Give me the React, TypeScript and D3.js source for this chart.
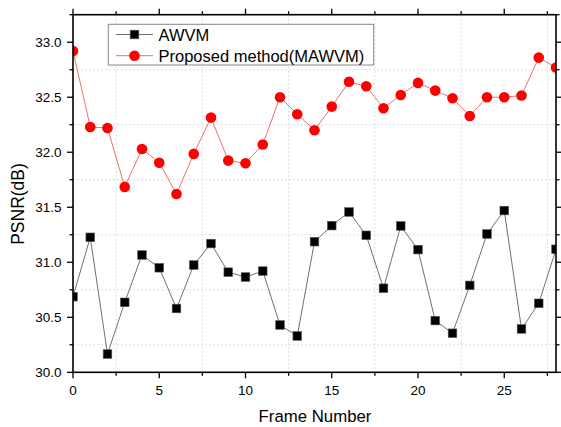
import React from "react";
import * as d3 from "d3";

const frames = d3.range(0, 29);
const awvm = [30.687, 31.227, 30.166, 30.636, 31.066, 30.95, 30.58, 30.975, 31.17, 30.91, 30.866, 30.92, 30.43, 30.33, 31.187, 31.333, 31.457, 31.245, 30.764, 31.33, 31.115, 30.47, 30.355, 30.79, 31.257, 31.47, 30.394, 30.627, 31.118];
const mawvm = [32.92, 32.23, 32.22, 31.685, 32.03, 31.905, 31.62, 31.985, 32.315, 31.924, 31.9, 32.07, 32.5, 32.345, 32.2, 32.415, 32.64, 32.6, 32.4, 32.52, 32.63, 32.56, 32.49, 32.33, 32.5, 32.5, 32.515, 32.86, 32.77];
const xTicks = [0, 5, 10, 15, 20, 25];
const xMinor = [2.5, 7.5, 12.5, 17.5, 22.5, 27.5];
const yTicks = [30.0, 30.5, 31.0, 31.5, 32.0, 32.5, 33.0];
const yMinor = [30.25, 30.75, 31.25, 31.75, 32.25, 32.75, 33.25];
const seriesNames = ["AWVM", "Proposed method(MAWVM)"];

const W = 561, H = 427;
const L = 73, R = 556, T = 14.7, B = 372.3;
const font = "Arial, 'Liberation Sans', sans-serif";

export default function App() {
  const x = d3.scaleLinear().domain([0, 28]).range([L, R]);
  const y = d3.scaleLinear().domain([30, 33.25]).range([B, T]);
  const line = (vals: number[]) =>
    d3.line<number>().x((_, i) => x(frames[i])).y((d) => y(d))(vals) || "";
  return (
    <div style={{ position: "absolute", left: 0, top: 0 }}>
      <svg width={W} height={H} style={{ display: "block", background: "#fff" }}>
        <defs>
          <clipPath id="clip">
            <rect x={L} y={T} width={R - L} height={B - T} />
          </clipPath>
        </defs>
        {/* grid */}
        {xMinor.map((v) => (
          <line key={"gx" + v} x1={x(v)} x2={x(v)} y1={T} y2={B} stroke="#dcdcdc" strokeDasharray="2,2" strokeWidth={1} />
        ))}
        {yMinor.filter((v) => v < 33.2).map((v) => (
          <line key={"gy" + v} x1={L} x2={R} y1={y(v)} y2={y(v)} stroke="#dcdcdc" strokeDasharray="2,2" strokeWidth={1} />
        ))}
        {/* series */}
        <g clipPath="url(#clip)">
          <path d={line(awvm)} fill="none" stroke="#707070" strokeWidth={1} />
          <path d={line(mawvm)} fill="none" stroke="#ee7070" strokeWidth={1} />
          {awvm.map((v, i) => (
            <rect key={"a" + i} x={x(frames[i]) - 4.3} y={y(v) - 4.3} width={8.6} height={8.6} fill="#000" stroke="#555" strokeWidth={0.6} />
          ))}
          {mawvm.map((v, i) => (
            <circle key={"m" + i} cx={x(frames[i])} cy={y(v)} r={5.3} fill="#ff0000" />
          ))}
        </g>
        {/* axes frame */}
        <rect x={L} y={T} width={R - L} height={B - T} fill="none" stroke="#000" strokeWidth={1.6} />
        {/* x ticks bottom & top */}
        {xTicks.map((v) => (
          <g key={"xt" + v}>
            <line x1={x(v)} x2={x(v)} y1={B} y2={B + 6} stroke="#000" strokeWidth={1.3} />
            <line x1={x(v)} x2={x(v)} y1={T} y2={T - 6} stroke="#000" strokeWidth={1.3} />
            <text x={x(v)} y={394.5} textAnchor="middle" fontFamily={font} fontSize={13.5} fill="#000">{v}</text>
          </g>
        ))}
        {xMinor.map((v) => (
          <g key={"xm" + v}>
            <line x1={x(v)} x2={x(v)} y1={B} y2={B + 3.5} stroke="#000" strokeWidth={1.3} />
            <line x1={x(v)} x2={x(v)} y1={T} y2={T - 3.5} stroke="#000" strokeWidth={1.3} />
          </g>
        ))}
        {/* y ticks */}
        {yTicks.map((v) => (
          <g key={"yt" + v}>
            <line x1={L} x2={L - 6} y1={y(v)} y2={y(v)} stroke="#000" strokeWidth={1.3} />
            <line x1={R} x2={R + 6} y1={y(v)} y2={y(v)} stroke="#000" strokeWidth={1.3} />
            <text x={61.5} y={y(v) + 4.7} textAnchor="end" fontFamily={font} fontSize={13.5} fill="#000">{v.toFixed(1)}</text>
          </g>
        ))}
        {yMinor.map((v) => (
          <g key={"ym" + v}>
            <line x1={L} x2={L - 3.5} y1={y(v)} y2={y(v)} stroke="#000" strokeWidth={1.3} />
            <line x1={R} x2={R + 3.5} y1={y(v)} y2={y(v)} stroke="#000" strokeWidth={1.3} />
          </g>
        ))}
        {/* axis titles */}
        <text x={315} y={421.7} textAnchor="middle" fontFamily={font} fontSize={16.8} fill="#000">Frame Number</text>
        <text transform={`translate(23.8,204) rotate(-90)`} textAnchor="middle" fontFamily={font} fontSize={17.5} fill="#000">PSNR(dB)</text>
        {/* legend */}
        <rect x={108.3} y={24.3} width={265.4} height={40.7} fill="#fff" stroke="#888" strokeWidth={1} />
        <line x1={116} x2={153} y1={34.5} y2={34.5} stroke="#707070" strokeWidth={1} />
        <rect x={134.5 - 4.3} y={34.5 - 4.3} width={8.6} height={8.6} fill="#000" stroke="#555" strokeWidth={0.6} />
        <text x={158.5} y={41.3} fontFamily={font} fontSize={16.5} fill="#000">{seriesNames[0]}</text>
        <line x1={116} x2={153} y1={55.7} y2={55.7} stroke="#ee7070" strokeWidth={1} />
        <circle cx={134.5} cy={55.7} r={5.3} fill="#ff0000" />
        <text x={158.5} y={61.7} fontFamily={font} fontSize={16.5} fill="#000">{seriesNames[1]}</text>
      </svg>
    </div>
  );
}
